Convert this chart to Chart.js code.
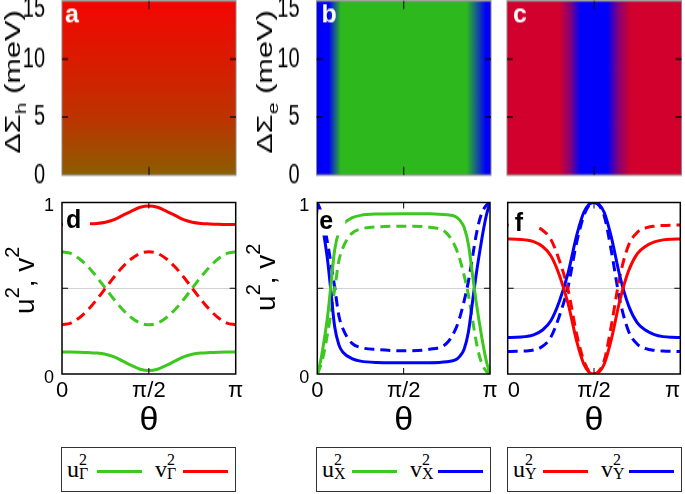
<!DOCTYPE html>
<html>
<head>
<meta charset="utf-8">
<script src="https://cdn.jsdelivr.net/npm/chart.js@4.4.1/dist/chart.umd.min.js"></script>
<style>
  body { margin: 0; background: #fff; }
  #page { position: relative; width: 685px; height: 494px; overflow: hidden; background: #fff; }
  canvas { position: absolute; }
  .heat { top: 0; transform: scaleY(1.4); transform-origin: 0 0; }
  .curve { top: 190px; }
  .key { position: absolute; top: 447px; height: 45px; border: 1px solid #333; box-sizing: border-box;
         font-family: 'Liberation Serif', 'Times New Roman', serif; color: #000; }
  .key .b { position: absolute; top: 9px; font-size: 24px; line-height: 24px; }
  .key .sp { position: absolute; top: 4px; font-size: 16px; line-height: 16px; }
  .key .sb { position: absolute; top: 18px; font-size: 16px; line-height: 16px; }
  .key .ln { position: absolute; top: 22px; width: 45px; height: 3px; }
</style>
</head>
<body>
<div id="page">
  <canvas id="chartA" class="heat" width="245" height="140" style="left:0px"></canvas>
  <canvas id="chartB" class="heat" width="252" height="140" style="left:245px"></canvas>
  <canvas id="chartC" class="heat" width="188" height="140" style="left:497px"></canvas>
  <canvas id="chartD" class="curve" width="245" height="245" style="left:0px"></canvas>
  <canvas id="chartE" class="curve" width="252" height="245" style="left:245px"></canvas>
  <canvas id="chartF" class="curve" width="188" height="245" style="left:497px"></canvas>

  <div class="key" style="left:61px;width:175px">
    <span class="b" style="left:5px">u</span><span class="sp" style="left:17px">2</span><span class="sb" style="left:17px">Γ</span>
    <span class="ln" style="left:35px;background:#3cc81e"></span>
    <span class="b" style="left:93px">v</span><span class="sp" style="left:105px">2</span><span class="sb" style="left:105px">Γ</span>
    <span class="ln" style="left:121px;background:#ff0000"></span>
  </div>
  <div class="key" style="left:316px;width:175px">
    <span class="b" style="left:5px">u</span><span class="sp" style="left:17px">2</span><span class="sb" style="left:17px">X</span>
    <span class="ln" style="left:35px;background:#3cc81e"></span>
    <span class="b" style="left:93px">v</span><span class="sp" style="left:105px">2</span><span class="sb" style="left:105px">X</span>
    <span class="ln" style="left:121px;background:#0000ff"></span>
  </div>
  <div class="key" style="left:507px;width:175px">
    <span class="b" style="left:5px">u</span><span class="sp" style="left:17px">2</span><span class="sb" style="left:17px">Y</span>
    <span class="ln" style="left:35px;background:#ff0000"></span>
    <span class="b" style="left:93px">v</span><span class="sp" style="left:105px">2</span><span class="sb" style="left:105px">Y</span>
    <span class="ln" style="left:121px;background:#0000ff"></span>
  </div>
</div>

<script>
// theta is given in units of pi everywhere
const thetaTicks = [0, 0.5, 1];
const thetaLabels = ['0', 'π/2', 'π'];
const sigmaTicks = [0, 5, 10, 15];
const weightTicks = [0, 0.5, 1];
const weightLabels = ['0', '', '1'];

// panel a: share of red (v_Γ²) in the colour, against ΔΣ_h
const sigmaA = [0, 5, 10, 15];
const redShareA = [0.45, 0.7, 0.84, 0.97];
// panel b: share of blue (v_X²) against θ
const thetaB = [0, 0.07, 0.1, 0.14, 0.5, 0.86, 0.91, 0.97, 1];
const blueShareB = [1, 1, 0.55, 0, 0, 0, 0.45, 1, 1];
// panel c: share of blue (v_Y²) against θ
const thetaC = [0, 0.3, 0.36, 0.42, 0.5, 0.575, 0.64, 0.71, 1];
const blueShareC = [0, 0, 0.35, 1, 1, 1, 0.35, 0, 0];

// panel d
const thetaD = [0, 0.05, 0.1, 0.15, 0.2, 0.25, 0.3, 0.35, 0.4, 0.45, 0.5, 0.55, 0.6, 0.65, 0.7, 0.75, 0.8, 0.85, 0.9, 0.95, 1];
const uGammaSolid = [0.128, 0.128, 0.127, 0.125, 0.122, 0.115, 0.1, 0.075, 0.05, 0.028, 0.02, 0.028, 0.05, 0.075, 0.1, 0.115, 0.122, 0.125, 0.127, 0.128, 0.128];
const vGammaSolid = [0.872, 0.872, 0.873, 0.875, 0.878, 0.885, 0.9, 0.925, 0.95, 0.972, 0.98, 0.972, 0.95, 0.925, 0.9, 0.885, 0.878, 0.875, 0.873, 0.872, 0.872];
const uGammaDash = [0.713, 0.703, 0.672, 0.625, 0.566, 0.5, 0.434, 0.375, 0.328, 0.297, 0.287, 0.297, 0.328, 0.375, 0.434, 0.5, 0.566, 0.625, 0.672, 0.703, 0.713];
const vGammaDash = [0.287, 0.297, 0.328, 0.375, 0.434, 0.5, 0.566, 0.625, 0.672, 0.703, 0.713, 0.703, 0.672, 0.625, 0.566, 0.5, 0.434, 0.375, 0.328, 0.297, 0.287];

// panel e
const thetaE = [0, 0.02, 0.04, 0.06, 0.08, 0.1, 0.125, 0.15, 0.2, 0.25, 0.35, 0.5, 0.65, 0.75, 0.8, 0.825, 0.85, 0.875, 0.9, 0.92, 0.94, 0.96, 0.98, 1];
const uXSolid = [0, 0.08, 0.2, 0.34, 0.53, 0.72, 0.83, 0.875, 0.91, 0.925, 0.933, 0.935, 0.934, 0.928, 0.918, 0.897, 0.855, 0.755, 0.57, 0.42, 0.29, 0.17, 0.07, 0];
const vXSolid = [1, 0.92, 0.8, 0.66, 0.47, 0.28, 0.17, 0.125, 0.09, 0.075, 0.067, 0.065, 0.066, 0.072, 0.082, 0.103, 0.145, 0.245, 0.43, 0.58, 0.71, 0.83, 0.93, 1];
const uXDash = [0, 0.05, 0.13, 0.24, 0.36, 0.49, 0.66, 0.74, 0.82, 0.845, 0.858, 0.862, 0.856, 0.82, 0.74, 0.67, 0.575, 0.46, 0.31, 0.19, 0.1, 0.045, 0.015, 0];
const vXDash = [1, 0.95, 0.87, 0.76, 0.64, 0.51, 0.34, 0.26, 0.18, 0.155, 0.142, 0.135, 0.144, 0.18, 0.26, 0.33, 0.425, 0.54, 0.69, 0.81, 0.9, 0.955, 0.985, 1];

// panel f
const thetaF = [0, 0.05, 0.1, 0.15, 0.2, 0.25, 0.3, 0.35, 0.4, 0.44, 0.47, 0.5, 0.53, 0.56, 0.6, 0.65, 0.7, 0.75, 0.8, 0.85, 0.9, 0.95, 1];
const uYSolid = [0.787, 0.786, 0.782, 0.772, 0.745, 0.69, 0.575, 0.41, 0.19, 0.06, 0.012, 0, 0.012, 0.06, 0.2, 0.43, 0.6, 0.7, 0.745, 0.77, 0.782, 0.786, 0.787];
const vYSolid = [0.213, 0.214, 0.218, 0.228, 0.255, 0.31, 0.425, 0.59, 0.81, 0.94, 0.988, 1, 0.988, 0.94, 0.8, 0.57, 0.4, 0.3, 0.255, 0.23, 0.218, 0.214, 0.213];
const uYDash = [0.869, 0.868, 0.866, 0.86, 0.84, 0.785, 0.66, 0.49, 0.23, 0.08, 0.018, 0, 0.018, 0.08, 0.28, 0.57, 0.75, 0.825, 0.852, 0.862, 0.866, 0.868, 0.869];
const vYDash = [0.131, 0.132, 0.134, 0.14, 0.16, 0.215, 0.34, 0.51, 0.77, 0.92, 0.982, 1, 0.982, 0.92, 0.72, 0.43, 0.25, 0.175, 0.148, 0.138, 0.134, 0.132, 0.131];

const titleH = [{ t: 'ΔΣ' }, { t: 'h', sub: true }, { t: ' (meV)' }];
const titleE = [{ t: 'ΔΣ' }, { t: 'e', sub: true }, { t: ' (meV)' }];
const titleUV = [{ t: 'u' }, { t: '2', sup: true }, { t: ', v' }, { t: '2', sup: true }];

const GREEN = '#3cc81e', RED = '#ff0000', BLUE = '#0000ff';
const FONT = "'Liberation Sans', Arial, sans-serif";
const STRETCH = 1.4; // the top row is drawn squeezed and stretched back by css

function mix(c0, c1, w) {
  const c = c0.map((v, i) => Math.round(v * (1 - w) + c1[i] * w));
  return `rgb(${c[0]},${c[1]},${c[2]})`;
}

// rotated axis title with sub/superscripts
function drawRich(ctx, parts, size, x, y) {
  const fontFor = p => `${p.sub || p.sup ? Math.round(size * 0.7) : size}px ${FONT}`;
  let total = 0;
  parts.forEach(p => { ctx.font = fontFor(p); total += ctx.measureText(p.t).width; });
  ctx.save();
  ctx.translate(x, y);
  ctx.rotate(-Math.PI / 2);
  ctx.fillStyle = '#000';
  ctx.textBaseline = 'alphabetic';
  let cx = -total / 2;
  parts.forEach(p => {
    ctx.font = fontFor(p);
    ctx.fillText(p.t, cx, p.sub ? size * 0.25 : p.sup ? -size * 0.55 : 0);
    cx += ctx.measureText(p.t).width;
  });
  ctx.restore();
}

// frame, inward ticks, panel letter and y title
const framePlugin = {
  id: 'frame',
  afterDatasetsDraw(chart, args, o) {
    const { ctx, chartArea: a, scales: { x, y } } = chart;
    ctx.save();
    if (o.letterBox) {
      ctx.fillStyle = '#fff';
      ctx.fillRect(a.left + 1, a.top + 7, 27, 26);
    }
    ctx.save();
    ctx.translate(a.left + o.letterDx, a.top + o.letterDy);
    ctx.scale(1, 1 / o.stretch);
    ctx.fillStyle = o.letterColor;
    ctx.font = `bold ${o.letterSize}px ${FONT}`;
    ctx.textBaseline = 'alphabetic';
    ctx.fillText(o.letter, 0, 0);
    ctx.restore();

    ctx.strokeStyle = o.stroke;
    ctx.lineWidth = o.lineWidth;
    ctx.strokeRect(a.left, a.top, a.width, a.height);
    ctx.strokeStyle = '#000';
    ctx.lineWidth = 1;
    ctx.beginPath();
    o.xTicks.forEach(v => {
      const px = x.getPixelForValue(v);
      ctx.moveTo(px, a.top); ctx.lineTo(px, a.top + o.xTickLen);
      ctx.moveTo(px, a.bottom); ctx.lineTo(px, a.bottom - o.xTickLen);
    });
    o.yTicks.forEach(v => {
      const py = y.getPixelForValue(v);
      ctx.moveTo(a.left, py); ctx.lineTo(a.left + 6, py);
      ctx.moveTo(a.right, py); ctx.lineTo(a.right - 6, py);
    });
    ctx.stroke();
    if (o.title) {
      drawRich(ctx, o.title.parts, o.title.size, a.left + o.title.dx, (a.top + a.bottom) / 2 + o.title.dy);
    }
    ctx.restore();
  }
};

function thetaGradient(thetas, shares, c0, c1) {
  return ({ chart }) => {
    const { chartArea, scales: { x } } = chart;
    if (!chartArea) return 'transparent';
    const x0 = x.getPixelForValue(thetas[0]), x1 = x.getPixelForValue(thetas[thetas.length - 1]);
    const g = chart.ctx.createLinearGradient(x0, 0, x1, 0);
    thetas.forEach((t, i) => g.addColorStop((x.getPixelForValue(t) - x0) / (x1 - x0), mix(c0, c1, shares[i])));
    return g;
  };
}

function sigmaGradient(sigmas, shares, c0, c1) {
  return ({ chart }) => {
    const { chartArea, scales: { y } } = chart;
    if (!chartArea) return 'transparent';
    const y0 = y.getPixelForValue(sigmas[0]), y1 = y.getPixelForValue(sigmas[sigmas.length - 1]);
    const g = chart.ctx.createLinearGradient(0, y0, 0, y1);
    sigmas.forEach((s, i) => g.addColorStop((y.getPixelForValue(s) - y0) / (y1 - y0), mix(c0, c1, shares[i])));
    return g;
  };
}

function heatChart(id, o) {
  const sigmaMax = sigmaTicks[sigmaTicks.length - 1];
  return new Chart(document.getElementById(id), {
    type: 'line',
    data: {
      datasets: [{
        data: o.thetas.map(t => ({ x: t, y: sigmaMax })),
        fill: 'origin',
        borderWidth: 0,
        pointRadius: 0,
        backgroundColor: o.gradient
      }]
    },
    options: {
      responsive: false,
      animation: false,
      events: [],
      layout: { autoPadding: false, padding: { left: 0, right: o.padRight, top: 0.7, bottom: 0 } },
      plugins: {
        legend: { display: false },
        tooltip: { enabled: false },
        frame: {
          stroke: '#888', lineWidth: 1, xTicks: [0.5], yTicks: [5, 10], xTickLen: 5.7,
          letter: o.letter, letterColor: '#fff', letterSize: 25, letterDx: o.letterDx, letterDy: 15.7,
          letterBox: false, stretch: STRETCH, title: o.title
        }
      },
      scales: {
        x: {
          type: 'linear', min: 0, max: 1,
          grid: { display: false }, border: { display: false },
          ticks: { display: false },
          afterBuildTicks: s => { s.ticks = thetaTicks.map(v => ({ value: v })); },
          afterFit: s => { s.height = 15; s.paddingLeft = s.paddingRight = 0; }
        },
        y: {
          type: 'linear', min: 0, max: sigmaMax,
          grid: { display: false }, border: { display: false },
          ticks: {
            display: o.showY, padding: 9, color: '#000', autoSkip: false,
            font: { family: FONT, size: 20, lineHeight: 0.57 },
            callback: v => (v === sigmaMax ? ['', String(v)] : String(v))
          },
          afterBuildTicks: s => { s.ticks = sigmaTicks.map(v => ({ value: v })); },
          afterFit: s => { s.width = o.axisWidth; s.paddingTop = s.paddingBottom = 0; }
        }
      }
    },
    plugins: [framePlugin]
  });
}

function curveChart(id, o) {
  return new Chart(document.getElementById(id), {
    type: 'line',
    data: {
      datasets: o.series.map(s => ({
        data: o.thetas.map((t, i) => ({ x: t, y: s.values[i] })),
        borderColor: s.color,
        borderWidth: 3,
        borderDash: s.dashed ? [10, 6] : [],
        pointRadius: 0,
        fill: false,
        cubicInterpolationMode: 'monotone'
      }))
    },
    options: {
      responsive: false,
      animation: false,
      events: [],
      layout: { autoPadding: false, padding: { left: 0, right: o.padRight, top: 12.5, bottom: 0 } },
      plugins: {
        legend: { display: false },
        tooltip: { enabled: false },
        frame: {
          stroke: '#000', lineWidth: 1.5, xTicks: [0.5], yTicks: [0.5], xTickLen: 6,
          letter: o.letter, letterColor: '#000', letterSize: 25, letterDx: o.letterDx, letterDy: o.letterDy,
          letterBox: true, stretch: 1, title: o.title
        }
      },
      scales: {
        x: {
          type: 'linear', min: 0, max: 1,
          grid: { display: false }, border: { display: false },
          ticks: {
            padding: -4, color: '#000', autoSkip: false, maxRotation: 0, align: o.tickAlign || 'center',
            font: { family: FONT, size: 22 },
            callback: v => thetaLabels[thetaTicks.indexOf(v)]
          },
          title: {
            display: true, text: 'θ', color: '#000',
            font: { family: FONT, size: 34, lineHeight: 1.05 }, padding: { top: 0, bottom: -3 }
          },
          afterBuildTicks: s => { s.ticks = thetaTicks.map(v => ({ value: v })); },
          afterFit: s => { s.height = 61; s.paddingLeft = s.paddingRight = 0; }
        },
        y: {
          type: 'linear', min: 0, max: 1,
          grid: {
            drawTicks: false, lineWidth: 0.8,
            color: c => (c.tick && c.tick.value === 0.5 ? '#c8c8c8' : 'rgba(0,0,0,0)')
          },
          border: { display: false },
          ticks: {
            display: o.showY, padding: 8, labelOffset: 4, color: '#000', autoSkip: false,
            font: { family: FONT, size: 18 },
            callback: v => weightLabels[weightTicks.indexOf(v)]
          },
          afterBuildTicks: s => { s.ticks = weightTicks.map(v => ({ value: v })); },
          afterFit: s => { s.width = o.axisWidth; s.paddingTop = s.paddingBottom = 0; }
        }
      }
    },
    plugins: [framePlugin]
  });
}

heatChart('chartA', {
  thetas: thetaTicks, gradient: sigmaGradient(sigmaA, redShareA, [50, 170, 0], [250, 0, 0]),
  axisWidth: 62, padRight: 9, showY: true, letter: 'a', letterDx: 3,
  title: { parts: titleH, size: 22, dx: -42, dy: -4.3 }
});
heatChart('chartB', {
  thetas: thetaB, gradient: thetaGradient(thetaB, blueShareB, [45, 185, 30], [0, 0, 250]),
  axisWidth: 71.5, padRight: 6, showY: true, letter: 'b', letterDx: 5,
  title: { parts: titleE, size: 22, dx: -44.5, dy: -4.3 }
});
heatChart('chartC', {
  thetas: thetaC, gradient: thetaGradient(thetaC, blueShareC, [210, 0, 45], [0, 0, 250]),
  axisWidth: 10, padRight: 3.5, showY: false, letter: 'c', letterDx: 6, title: null
});

curveChart('chartD', {
  thetas: thetaD, axisWidth: 62, padRight: 9.3, showY: true, letter: 'd', letterDx: 4, letterDy: 25,
  title: { parts: titleUV, size: 28, dx: -28, dy: -8 },
  series: [
    { values: vGammaSolid, color: RED },
    { values: uGammaSolid, color: GREEN },
    { values: vGammaDash, color: RED, dashed: true },
    { values: uGammaDash, color: GREEN, dashed: true }
  ]
});
curveChart('chartE', {
  thetas: thetaE, axisWidth: 72.3, padRight: 7, showY: true, letter: 'e', letterDx: 2, letterDy: 26,
  title: { parts: titleUV, size: 28, dx: -42, dy: -11 },
  series: [
    { values: uXSolid, color: GREEN },
    { values: vXSolid, color: BLUE },
    { values: uXDash, color: GREEN, dashed: true },
    { values: vXDash, color: BLUE, dashed: true }
  ]
});
curveChart('chartF', {
  thetas: thetaF, axisWidth: 10.7, padRight: 4.7, showY: false, letter: 'f', letterDx: 7, letterDy: 28,
  title: null, tickAlign: 'inner',
  series: [
    { values: uYSolid, color: RED },
    { values: vYSolid, color: BLUE },
    { values: uYDash, color: RED, dashed: true },
    { values: vYDash, color: BLUE, dashed: true }
  ]
});
</script>
</body>
</html>
